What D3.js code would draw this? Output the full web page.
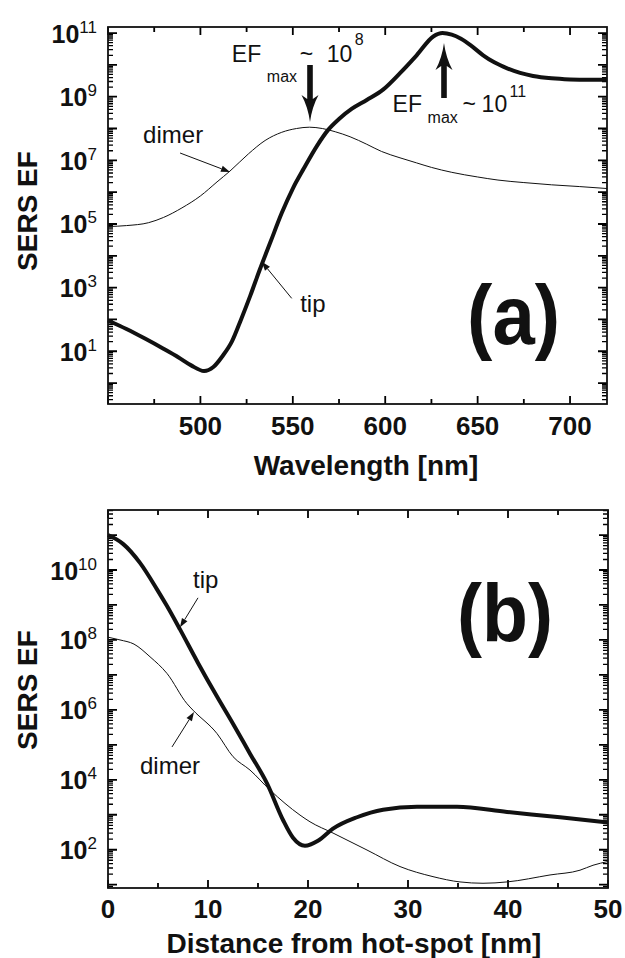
<!DOCTYPE html>
<html>
<head>
<meta charset="utf-8">
<script src="https://cdn.jsdelivr.net/npm/d3@7"></script>
<style>
  body { margin: 0; background: #fff; }
  svg { display: block; }
  text { font-family: "Liberation Sans", Arial, Helvetica, sans-serif; fill: #111; }
</style>
</head>
<body>
<svg id="fig" width="625" height="958"></svg>
<script>
// ---- Panel (a): SERS enhancement factor vs. excitation wavelength ----
const wavelengthTip = [450, 460, 470, 480, 488, 495, 502, 507, 512, 517, 522, 527, 532, 538, 544, 550, 556, 563, 569, 575, 582, 590, 599, 608, 617, 626, 631, 636, 641, 647, 653, 659, 666, 673, 680, 690, 700, 710, 720];
const efTipSpectrum = [93, 50, 25, 12, 6.5, 3.6, 2.4, 3.2, 7.1, 20, 100, 560, 3.5e3, 2.8e4, 2.2e5, 1.3e6, 5.6e6, 2.8e7, 8.9e7, 2.0e8, 4.2e8, 7.9e8, 1.7e9, 5.5e9, 2.0e10, 7.8e10, 1.0e11, 8.9e10, 6.6e10, 3.8e10, 2.0e10, 1.2e10, 7.8e9, 5.6e9, 4.5e9, 3.8e9, 3.5e9, 3.4e9, 3.4e9];

const wavelengthDimer = [450, 460, 472, 480, 490, 500, 509, 516, 526, 535, 544, 552, 559, 566, 573, 581, 590, 598, 608, 617, 625, 636, 650, 661, 675, 690, 705, 720];
const efDimerSpectrum = [8.3e4, 8.9e4, 1.1e5, 1.6e5, 3.2e5, 7.6e5, 2.1e6, 4.6e6, 1.6e7, 4.2e7, 7.6e7, 1.0e8, 1.1e8, 1.0e8, 7.9e7, 5.5e7, 3.2e7, 1.9e7, 1.2e7, 8.3e6, 6.0e6, 4.2e6, 3.0e6, 2.4e6, 2.0e6, 1.7e6, 1.5e6, 1.3e6];

// ---- Panel (b): SERS enhancement factor vs. distance from the hot-spot ----
const distanceTip = [0, 1.5, 3.2, 4.9, 5.9, 7.2, 9.0, 10.9, 12.5, 14.2, 15.9, 17.5, 18.5, 19.7, 21.0, 22.5, 24.9, 27.5, 30.9, 34.9, 39.9, 45.2, 50];
const efTipDistance = [1.0e11, 5.6e10, 1.6e10, 2.8e9, 9.3e8, 2.0e8, 2.2e7, 2.4e6, 4.0e5, 5.6e4, 7.9e3, 710, 220, 130, 180, 400, 850, 1400, 1700, 1700, 1200, 850, 600];

const distanceDimer = [0, 1.2, 2.6, 4.2, 5.9, 7.9, 8.5, 10.9, 12.5, 14.2, 16.2, 19.2, 20.2, 22.5, 25.9, 29.2, 32.5, 35.2, 37.5, 39.9, 44.2, 47.2, 48.5, 50];
const efDimerDistance = [1.2e8, 1.0e8, 7.6e7, 3.3e7, 1.1e7, 1.5e6, 9.8e5, 2.1e5, 4.6e4, 1.9e4, 5.1e3, 980, 630, 300, 98, 33, 17, 12, 11, 12, 19, 26, 36, 46];

// ---- Axis ticks ----
const wavelengthMajor = [450, 500, 550, 600, 650, 700];
const wavelengthLabels = [500, 550, 600, 650, 700];
const wavelengthMinor = [475, 525, 575, 625, 675];
const distanceMajor = [0, 10, 20, 30, 40, 50];
const distanceMinor = [5, 15, 25, 35, 45];
const exponentsA = [1, 3, 5, 7, 9, 11];
const exponentsB = [2, 4, 6, 8, 10];

const svg = d3.select("#fig");

function logTicks(domain) {
  const major = [], minor = [];
  const lo = Math.floor(Math.log10(domain[0])), hi = Math.ceil(Math.log10(domain[1]));
  for (let e = lo; e <= hi; e++) {
    const p = Math.pow(10, e);
    if (p >= domain[0] && p <= domain[1]) major.push(p);
    for (let k = 2; k <= 9; k++) {
      const v = k * p;
      if (v >= domain[0] && v <= domain[1]) minor.push(v);
    }
  }
  return { major, minor };
}

function drawPanel(o) {
  const g = svg.append("g");
  const x = d3.scaleLinear().domain(o.xDomain).range([o.left, o.right]);
  const y = d3.scaleLog().domain(o.yDomain).range([o.bottom, o.top]);
  const lt = logTicks(o.yDomain);

  // inward tick marks on all four sides, drawn as one path per set
  const tickPath = (d, w) => g.append("path").attr("d", d)
    .attr("fill", "none").attr("stroke", "#000").attr("stroke-width", w);
  const vTicks = (vals, len) => vals.map(v =>
    `M${x(v)},${o.bottom}V${o.bottom - len}M${x(v)},${o.top}V${o.top + len}`).join("");
  const hTicks = (vals, len) => lt[vals].map(v =>
    `M${o.left},${y(v)}H${o.left + len}M${o.right},${y(v)}H${o.right - len}`).join("");
  tickPath(vTicks(o.xMajor, 8), 1.8);
  tickPath(vTicks(o.xMinor, 5), 1.8);
  tickPath(hTicks("major", 9), 1.8);
  tickPath(hTicks("minor", 5), 1.3);

  // x tick labels
  g.append("g").selectAll("text").data(o.xLabels).join("text")
    .attr("x", d => x(d)).attr("y", o.bottom + o.xLabelDy)
    .attr("text-anchor", "middle")
    .attr("font-size", 26).attr("font-weight", "bold")
    .text(d => d);

  // power-of-ten labels
  const lab = g.append("g");
  o.exponents.forEach(e => {
    const t = lab.append("text")
      .attr("x", o.left - 11)
      .attr("y", y(Math.pow(10, e)) + 9.5)
      .attr("text-anchor", "end");
    t.append("tspan").text("10").attr("font-size", 25).attr("font-weight", "bold");
    t.append("tspan").text(e).attr("font-size", 17).attr("dy", -10);
  });

  // frame
  g.append("rect")
    .attr("x", o.left).attr("y", o.top)
    .attr("width", o.right - o.left).attr("height", o.bottom - o.top)
    .attr("fill", "none").attr("stroke", "#111").attr("stroke-width", 1.8);

  // curves
  const line = d3.line().x(d => x(d[0])).y(d => y(d[1])).curve(d3.curveMonotoneX);
  o.series.forEach(s => {
    g.append("path")
      .datum(d3.zip(s.xs, s.ys))
      .attr("d", line)
      .attr("fill", "none")
      .attr("stroke", "#111")
      .attr("stroke-width", s.width)
      .attr("stroke-linejoin", "round");
  });

  // axis titles
  g.append("text")
    .attr("x", o.xTitleX).attr("y", o.bottom + o.xTitleDy)
    .attr("text-anchor", "middle")
    .attr("font-size", 28).attr("font-weight", "bold")
    .text(o.xTitle);
  g.append("text")
    .attr("transform", `translate(37,${o.yTitleY}) rotate(-90)`)
    .attr("text-anchor", "middle")
    .attr("font-size", 28).attr("font-weight", "bold")
    .text("SERS EF");

  return { g, x, y };
}

function thinArrow(g, x1, y1, x2, y2) {
  const a = Math.atan2(y2 - y1, x2 - x1), L = 9, w = 3.2;
  const bx = x2 - L * Math.cos(a), by = y2 - L * Math.sin(a);
  g.append("line").attr("x1", x1).attr("y1", y1).attr("x2", bx).attr("y2", by)
    .attr("stroke", "#111").attr("stroke-width", 1);
  g.append("path")
    .attr("d", `M${x2},${y2}L${bx + w * Math.sin(a)},${by - w * Math.cos(a)}L${bx - w * Math.sin(a)},${by + w * Math.cos(a)}Z`)
    .attr("fill", "#111");
}

function boldArrow(g, x, yTail, yTip) {
  const dir = Math.sign(yTip - yTail), head = 27, hw = 8.5, sw = 2.8;
  const yb = yTip - dir * head;
  g.append("path")
    .attr("d", `M${x - sw},${yTail}L${x + sw},${yTail}L${x + sw},${yb + dir * 4}` +
      `L${x + hw},${yb}Q${x + 2},${yb + dir * 12} ${x},${yTip}Q${x - 2},${yb + dir * 12} ${x - hw},${yb}` +
      `L${x - sw},${yb + dir * 4}Z`)
    .attr("fill", "#111");
}

function efLabel(g, ax, ay, sup, off) {
  const t = g.append("text").attr("font-size", 23);
  t.append("tspan").attr("x", ax).attr("y", ay).text("EF");
  t.append("tspan").attr("x", ax + off[0]).attr("y", ay + off[1]).attr("font-size", 16).text("max");
  t.append("tspan").attr("x", ax + off[2]).attr("y", ay).text("~");
  t.append("tspan").attr("x", ax + off[3]).attr("y", ay).text("10");
  t.append("tspan").attr("x", ax + off[4]).attr("y", ay - off[5]).attr("font-size", 16).text(sup);
}

function note(g, x, y, str) {
  g.append("text").attr("x", x).attr("y", y).attr("font-size", 24).text(str);
}

function panelLabel(g, x, y, str, size, width) {
  g.append("text").attr("x", x).attr("y", y)
    .attr("font-size", size).attr("font-weight", "bold")
    .attr("textLength", width).attr("lengthAdjust", "spacingAndGlyphs")
    .text(str);
}

// ---------- panel (a) ----------
const A = drawPanel({
  left: 108, right: 607, top: 27, bottom: 404,
  xDomain: [450, 720], yDomain: [0.22, 1.55e11],
  xMajor: wavelengthMajor, xLabels: wavelengthLabels, xMinor: wavelengthMinor, xLabelDy: 31,
  exponents: exponentsA,
  xTitle: "Wavelength [nm]", xTitleX: 366, xTitleDy: 71, yTitleY: 211,
  series: [
    { xs: wavelengthDimer, ys: efDimerSpectrum, width: 1 },
    { xs: wavelengthTip, ys: efTipSpectrum, width: 4 }
  ]
});
note(A.g, A.x(469), A.y(3.5e7), "dimer");
thinArrow(A.g, A.x(489), A.y(1.7e7), A.x(516), A.y(4.3e6));
note(A.g, A.x(554), A.y(170), "tip");
thinArrow(A.g, A.x(549.4), A.y(460), A.x(533.2), A.y(6.5e3));
boldArrow(A.g, A.x(559.3), A.y(1.0e10), A.y(1.6e8));
efLabel(A.g, A.x(517), A.y(1.2e10), "8", [35, 20, 68, 95, 123, 17]);
boldArrow(A.g, A.x(631.8), A.y(9.1e8), A.y(4.9e10));
efLabel(A.g, A.x(604), A.y(3.3e8), "11", [35, 11, 70, 89, 117, 15]);
panelLabel(A.g, A.x(644.3), A.y(17), "(a)", 84, 93);

// ---------- panel (b) ----------
const B = drawPanel({
  left: 108, right: 608, top: 510, bottom: 888,
  xDomain: [0, 50], yDomain: [8.05, 5.2e11],
  xMajor: distanceMajor, xLabels: distanceMajor, xMinor: distanceMinor, xLabelDy: 30,
  exponents: exponentsB,
  xTitle: "Distance from hot-spot [nm]", xTitleX: 354, xTitleDy: 65, yTitleY: 690,
  series: [
    { xs: distanceDimer, ys: efDimerDistance, width: 1 },
    { xs: distanceTip, ys: efTipDistance, width: 4 }
  ]
});
note(B.g, B.x(8.5), B.y(3.0e9), "tip");
thinArrow(B.g, B.x(9.0), B.y(1.6e9), B.x(7.2), B.y(2.3e8));
note(B.g, B.x(3.2), B.y(1.5e4), "dimer");
thinArrow(B.g, B.x(6.4), B.y(8.7e4), B.x(8.6), B.y(8.7e5));
panelLabel(B.g, B.x(34.9), B.y(9.3e7), "(b)", 81, 96);
</script>
</body>
</html>
